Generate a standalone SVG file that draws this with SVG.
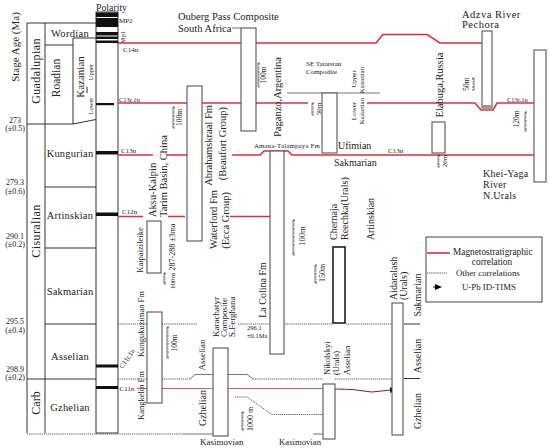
<svg xmlns="http://www.w3.org/2000/svg" width="550" height="448" viewBox="0 0 550 448">
<style>
.t{font-family:"Liberation Serif","Times New Roman",serif;fill:#222}
.fr{fill:none;stroke:#333;stroke-width:1}
.box{fill:#fff;stroke:#555;stroke-width:1.1}
.red{fill:none;stroke:#de2f3f;stroke-width:1.6}
.dot{fill:none;stroke:#444;stroke-width:0.9;stroke-dasharray:1.2 0.9}
.gr{fill:none;stroke:#777;stroke-width:1}
.bar{fill:none;stroke:#444;stroke-width:0.7}
.tk{fill:none;stroke:#444;stroke-width:1.6;stroke-dasharray:0.4 1.2}
.blk{fill:#111}
</style>
<defs>
<marker id="ah" markerUnits="userSpaceOnUse" markerWidth="7" markerHeight="6" refX="1" refY="3" orient="auto"><path d="M0,0 L7,3 L0,6 z" fill="#000"/></marker>
</defs>
<rect width="550" height="448" fill="#fff"/>

<g id="column">
<path class="fr" d="M27,23 H96 M27,23 V433 M45,23 V433 M45,45 H73 M73,38 H96 M73,38 V124 M73,124 L96,119.5 M27,124 H73 M45,187 H96 M45,248 H96 M45,324 H96 M27,379 H96 M87,87 V93"/>
<rect class="fr" x="96" y="12" width="22" height="421"/>
<rect class="blk" x="96" y="12.5" width="22" height="4.5"/>
<rect class="blk" x="96" y="18" width="22" height="9"/>
<rect class="blk" x="96" y="32" width="22" height="3.5"/>
<rect class="blk" x="96" y="36.5" width="22" height="2.5"/>
<rect class="blk" x="96" y="40.5" width="22" height="2.5"/>
<rect class="blk" x="96" y="103" width="18" height="2.2"/>
<rect class="blk" x="96" y="151" width="22" height="3.5"/>
<rect class="blk" x="96" y="212.5" width="22" height="3.5"/>
<rect class="blk" x="96" y="364.5" width="22" height="3"/>
<rect class="blk" x="96" y="386" width="22" height="3"/>
<text class="t" x="96" y="10.5" font-size="9.8">Polarity</text>
<text class="t" x="119" y="23" font-size="7">MP2</text>
<text class="t" transform="translate(124.5,37) rotate(-90)" text-anchor="middle" font-size="6.5">Mp1</text>
<text class="t" transform="translate(19,47) rotate(-90)" text-anchor="middle" font-size="11">Stage Age (Ma)</text>
<text class="t" transform="translate(39.5,71) rotate(-90)" text-anchor="middle" font-size="12" letter-spacing="0.4">Guadalupian</text>
<text class="t" transform="translate(60,78) rotate(-90)" text-anchor="middle" font-size="11.5">Roadian</text>
<text class="t" transform="translate(84,77) rotate(-90)" text-anchor="middle" font-size="11">Kazanian</text>
<text class="t" transform="translate(92.5,72) rotate(-90)" text-anchor="middle" font-size="6.5">Upper</text>
<text class="t" transform="translate(92.5,106) rotate(-90)" text-anchor="middle" font-size="6.5">Lower</text>
<text class="t" transform="translate(40,231) rotate(-90)" text-anchor="middle" font-size="12" letter-spacing="0.4">Cisuralian</text>
<text class="t" transform="translate(40,403) rotate(-90)" text-anchor="middle" font-size="12">Carb</text>
<text class="t" x="70" y="37" text-anchor="middle" font-size="10.5" letter-spacing="0.3">Wordian</text>
<text class="t" x="70" y="157" text-anchor="middle" font-size="10.5" letter-spacing="0.2">Kungurian</text>
<text class="t" x="70" y="219" text-anchor="middle" font-size="10.5" letter-spacing="0.2">Artinskian</text>
<text class="t" x="70" y="295" text-anchor="middle" font-size="10.5" letter-spacing="0.2">Sakmarian</text>
<text class="t" x="70" y="360" text-anchor="middle" font-size="10.5" letter-spacing="0.2">Asselian</text>
<text class="t" x="70" y="411" text-anchor="middle" font-size="10.5" letter-spacing="0.2">Gzhelian</text>
<g font-size="8" text-anchor="middle">
<text class="t" x="15" y="122.5">273</text><text class="t" x="15" y="131">(±0.5)</text>
<text class="t" x="15" y="184.5">279.3</text><text class="t" x="15" y="194">(±0.6)</text>
<text class="t" x="15" y="238.5">290.1</text><text class="t" x="15" y="247">(±0.2)</text>
<text class="t" x="15" y="323.5">295.5</text><text class="t" x="15" y="332.5">(±0.4)</text>
<text class="t" x="15" y="371.5">298.9</text><text class="t" x="15" y="380">(±0.2)</text>
</g>
</g>

<g id="connectors">
<path class="red" d="M118,43 H241 M256,43 H376 L383,34.5 H427 L440,43 H482"/>
<path class="red" d="M118,103 H187 M202,103 H241 M256,103 H308 M367,103 H475 L481,110 H493 L497,103 H534"/>
<path class="red" d="M118,155 H153 M167,155 H187 M232,155 H260 L264,151 H288 L292,155 H534"/>
<path class="red" d="M118,216.5 H143 M168,216.5 H185 M230,216.5 H270"/>
<path fill="none" stroke="#d85a5a" stroke-width="1" d="M137,388.5 H323"/>
<path fill="none" stroke="#7a2a1c" stroke-width="1.2" d="M335,389 L352,389.5 L372,392 L391,390" marker-end="url(#ah)"/>
<path class="dot" d="M118,324 H147 M162,324 H197 M238,324 H270 M285,324 H333 M346,324 H392"/>
<path class="fr" d="M404,324 H420 M404,378.5 H420"/>
<path class="dot" d="M118,379 H147 M162,379 H190 M253,379 H323 M335,379 H392"/>
<path class="gr" d="M190,379 L195,374.5 H213 M228,374.5 H247 L253,379"/>
<path class="dot" d="M27,434 H183 M235,397 H247 L272,414.5 H323"/>
<path class="gr" d="M183,434 H213 M313,434 H323"/>
<path class="gr" d="M287,93 H380 M232,28 H241"/>
</g>

<g id="n-ouberg"><rect class="box" x="241" y="28" width="15" height="103"/>
<text class="t" x="178" y="20" font-size="10.5">Ouberg Pass Composite</text>
<text class="t" x="178" y="31.5" font-size="10.5">South Africa</text>
<path class="bar" d="M260,63 H258 V87 H260"/><path class="tk" d="M259,63 V87"/>
<text class="t" transform="translate(266,75) rotate(-90)" text-anchor="middle" font-size="7.5">100m</text></g>

<g id="n-abrahamskraal"><rect class="box" x="187" y="86" width="15" height="155"/>
<path class="bar" d="M175,107 H173 V128 H175"/><path class="tk" d="M174,107 V128"/>
<text class="t" transform="translate(182,117.5) rotate(-90)" text-anchor="middle" font-size="7.5">100m</text>
<text class="t" transform="translate(212,105) rotate(-90)" text-anchor="end" font-size="10.5">Abrahamskraal Fm</text>
<text class="t" transform="translate(225.5,107) rotate(-90)" text-anchor="end" font-size="10.5">(Beaufort Group)</text>
<text class="t" transform="translate(217,190) rotate(-90)" text-anchor="end" font-size="10.5">Waterford Fm</text>
<text class="t" transform="translate(228.5,192) rotate(-90)" text-anchor="end" font-size="10.5">(Ecca Group)</text></g>

<g id="n-aksu"><rect class="box" x="147" y="221" width="14" height="52"/>
<text class="t" transform="translate(156,217) rotate(-90)" font-size="10.5">Aksu-Kalpin</text>
<text class="t" transform="translate(167,217) rotate(-90)" font-size="10.5">Tarim Basin, China</text>
<text class="t" transform="translate(143,250) rotate(-90)" text-anchor="middle" font-size="8.5">Kaipaizileike</text>
<text class="t" transform="translate(175,247) rotate(-90)" text-anchor="middle" font-size="8">287-288 ±3ma</text>
<path class="bar" d="M166,273 H164 V284 H166"/><path class="tk" d="M165,273 V284"/>
<text class="t" transform="translate(175,281) rotate(-90)" text-anchor="middle" font-size="7">100m</text></g>

<g id="n-kungukuziman"><rect class="box" x="147" y="312" width="15" height="91"/>
<text class="t" transform="translate(143.5,357) rotate(-90)" font-size="8.5">Kungukuziman Fm</text>
<text class="t" transform="translate(143.5,420) rotate(-90)" font-size="8.5">Kangkelin Fm</text>
<text class="t" transform="translate(129,360) rotate(-55)" text-anchor="middle" font-size="7">C11r.1n</text>
<path class="bar" d="M169,327 H167 V358 H169"/><path class="tk" d="M168,327 V358"/>
<text class="t" transform="translate(177,343) rotate(-90)" text-anchor="middle" font-size="7.5">100m</text></g>

<g id="n-karachatyr"><rect class="box" x="213" y="348" width="15" height="88" stroke="#222"/>
<text class="t" transform="translate(218.5,337) rotate(-90)" font-size="9">Karachatyr</text>
<text class="t" transform="translate(226.5,337) rotate(-90)" font-size="9">Composite</text>
<text class="t" transform="translate(234.5,337) rotate(-90)" font-size="9">S.Ferghana</text>
<text class="t" transform="translate(205,355) rotate(-90)" text-anchor="middle" font-size="9">Asselian</text>
<text class="t" transform="translate(205.5,408) rotate(-90)" text-anchor="middle" font-size="10">Gzhelian</text>
<path class="bar" d="M244,412 H242 V430 H244"/><path class="tk" d="M243,412 V430"/>
<text class="t" transform="translate(253,419) rotate(-90)" text-anchor="middle" font-size="8">1000 m</text>
<text class="t" x="247" y="330" font-size="6.5">296.1</text>
<text class="t" x="247" y="337.5" font-size="6.5">±0.1Ma</text>
<text class="t" x="200" y="445" font-size="9">Kasimovian</text></g>

<g id="n-lacolina"><rect class="box" x="270" y="151" width="14" height="203"/>
<text class="t" transform="translate(281,97) rotate(-90)" text-anchor="middle" font-size="10.5">Paganzo,Argentina</text>
<text class="t" x="254" y="147.5" font-size="6.8" letter-spacing="0.2">Amana-Talampaya Fm</text>
<text class="t" transform="translate(265.5,290) rotate(-90)" text-anchor="middle" font-size="10">La Colina  Fm</text>
<path class="bar" d="M314,103 H312 V115 H314"/><path class="tk" d="M313,103 V115"/>
<text class="t" transform="translate(321,109) rotate(-90)" text-anchor="middle" font-size="7">50m</text>
<path class="bar" d="M295,220 H293 V255 H295"/><path class="tk" d="M294,220 V255"/>
<text class="t" transform="translate(305,236) rotate(-90)" text-anchor="middle" font-size="8.5">100m</text></g>

<g id="n-tatarstan"><rect class="box" x="322" y="93" width="15" height="60"/>
<text class="t" x="306" y="65.5" font-size="7">SE Tatarstan</text>
<text class="t" x="306" y="73.5" font-size="7">Compodite</text>
<text class="t" transform="translate(355.5,79) rotate(-90)" text-anchor="middle" font-size="7">Upper</text>
<text class="t" transform="translate(363.5,80) rotate(-90)" text-anchor="middle" font-size="7">Kazanian</text>
<text class="t" transform="translate(355.5,111) rotate(-90)" text-anchor="middle" font-size="7">Lower</text>
<text class="t" transform="translate(363.5,111) rotate(-90)" text-anchor="middle" font-size="7">Kazanian</text>
<text class="t" x="338" y="148.5" font-size="10">Ufimian</text>
<text class="t" x="334" y="165.5" font-size="10">Sakmarian</text>
<text class="t" x="388" y="153" font-size="7">C13n</text></g>

<g id="n-chernaja"><rect x="333" y="247" width="12" height="76" fill="#fff" stroke="#111" stroke-width="1.5"/>
<text class="t" transform="translate(336.5,240) rotate(-90)" font-size="10">Chernaja</text>
<text class="t" transform="translate(347.5,240) rotate(-90)" font-size="10">Reechka(Urals)</text>
<text class="t" transform="translate(373.5,219) rotate(-90)" text-anchor="middle" font-size="10">Artinskian</text>
<path class="bar" d="M317,265 H315 V283 H317"/><path class="tk" d="M316,265 V283"/>
<text class="t" transform="translate(325,273) rotate(-90)" text-anchor="middle" font-size="8">150m</text></g>

<g id="n-nikolskyi"><rect class="box" x="323" y="384" width="12" height="55"/>
<text class="t" transform="translate(330,375) rotate(-90)" font-size="8.5">Nikolskyi</text>
<text class="t" transform="translate(339,375) rotate(-90)" font-size="8.5">(Urals)</text>
<text class="t" transform="translate(350,375) rotate(-90)" font-size="8.5">Asselian</text>
<text class="t" x="279" y="445" font-size="8.7">Kasimovian</text></g>

<g id="n-aidaralash"><rect class="box" x="392" y="303" width="11" height="132"/>
<text class="t" transform="translate(396.5,300) rotate(-90)" font-size="10">Aidaralash</text>
<text class="t" transform="translate(406.5,300) rotate(-90)" font-size="10">(Urals)</text>
<text class="t" transform="translate(420.5,295) rotate(-90)" text-anchor="middle" font-size="10">Sakmarian</text>
<text class="t" transform="translate(420.5,356) rotate(-90)" text-anchor="middle" font-size="10">Asselian</text>
<text class="t" transform="translate(420.5,411) rotate(-90)" text-anchor="middle" font-size="10">Gzhelian</text></g>

<g id="n-elabuga"><rect class="box" x="432" y="122" width="13" height="31"/>
<text class="t" transform="translate(443,85) rotate(-90)" text-anchor="middle" font-size="10.5">Elabuga,Russia</text>
<path class="bar" d="M440,155 H438 V167 H440"/><path class="tk" d="M439,155 V167"/>
<text class="t" transform="translate(447,161) rotate(-90)" text-anchor="middle" font-size="7">20m</text></g>

<g id="n-adzva"><rect class="box" x="482" y="31" width="10" height="77"/>
<rect x="482.5" y="105" width="9" height="3" fill="#999"/>
<text class="t" x="462" y="17.5" font-size="10.5" letter-spacing="0.5">Adzva River</text>
<text class="t" x="462" y="27.5" font-size="10.5" letter-spacing="0.5">Pechora</text>
<path class="bar" d="M472,78 H474 V90 H472"/><path class="tk" d="M473,78 V90"/>
<text class="t" transform="translate(469,84) rotate(-90)" text-anchor="middle" font-size="7.5">50m</text></g>

<g id="n-kheiyaga"><rect class="box" x="534" y="50" width="12" height="132"/>
<text class="t" x="507" y="101.5" font-size="6.5">C13r.1n</text>
<text class="t" transform="translate(518.5,119) rotate(-90)" text-anchor="middle" font-size="7.5">120m</text>
<path class="bar" d="M527,112 H525 V131 H527"/><path class="tk" d="M526,112 V131"/>
<text class="t" x="483" y="176.5" font-size="10" letter-spacing="0.3">Khei-Yaga</text>
<text class="t" x="483" y="187.5" font-size="10" letter-spacing="0.3">River</text>
<text class="t" x="483" y="198.5" font-size="10" letter-spacing="0.3">N.Urals</text></g>

<g id="labels-c">
<text class="t" x="123" y="52" font-size="7">C14n</text>
<text class="t" x="119" y="101.5" font-size="6.5">C13r.1n</text>
<text class="t" x="121" y="153" font-size="7">C13n</text>
<text class="t" x="122" y="214" font-size="7">C12n</text>
<text class="t" x="119.5" y="391" font-size="7">C11n</text>
</g>

<g id="legend">
<rect x="426" y="237" width="116" height="65" fill="#fff" stroke="#444" stroke-width="1"/>
<path class="red" d="M427,253 H450"/>
<text class="t" x="453" y="254.5" font-size="9.3">Magnetostratigraphic</text>
<text class="t" x="492" y="264.5" text-anchor="middle" font-size="9.3">correlation</text>
<path class="dot" d="M427,273 H447"/>
<text class="t" x="456" y="276" font-size="8.8">Other correlations</text>
<path fill="none" stroke="#000" stroke-width="1" d="M433,287 H436" marker-end="url(#ah)"/>
<text class="t" x="462" y="290" font-size="8.8">U-Pb ID-TIMS</text>
</g>
</svg>
